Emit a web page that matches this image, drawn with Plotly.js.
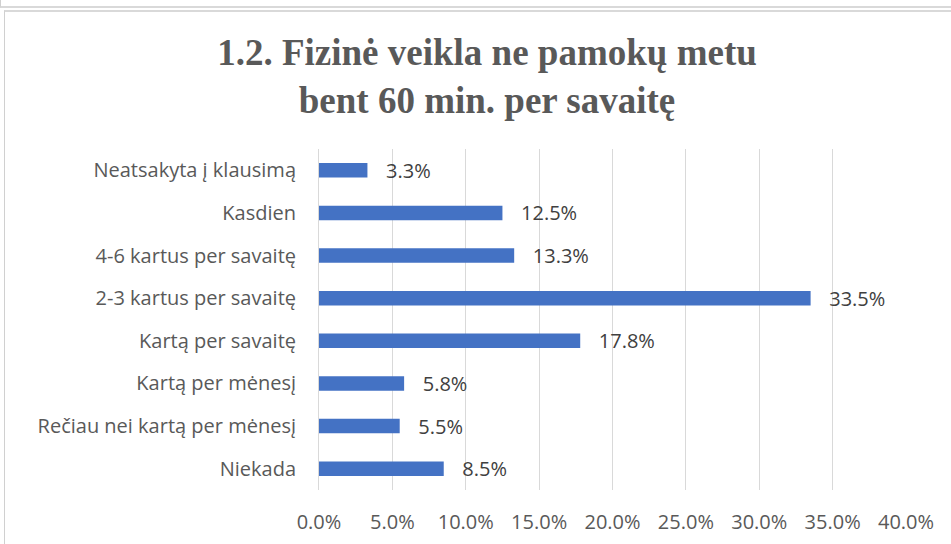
<!DOCTYPE html>
<html>
<head>
<meta charset="utf-8">
<script src="https://cdn.plot.ly/plotly-3.0.1.min.js"></script>
<style>
html,body{margin:0;padding:0;background:#fff;}
#wrap{position:relative;width:951px;height:544px;overflow:hidden;}
#chart{position:absolute;left:0;top:0;width:951px;height:544px;}
.frame1{position:absolute;left:0;top:-2px;width:960px;height:8px;border-left:1px solid #d0d0d0;border-bottom:2px solid #d9d9d9;pointer-events:none;}
.frame2{position:absolute;left:4px;top:10px;width:960px;height:560px;border-left:1px solid #d0d0d0;border-top:2px solid #d9d9d9;pointer-events:none;}
</style>
</head>
<body>
<div id="wrap">
<div id="chart"></div>
<div class="frame1"></div>
<div class="frame2"></div>
</div>
<script>
const categories = [
  "Neatsakyta į klausimą",
  "Kasdien",
  "4-6 kartus per savaitę",
  "2-3 kartus per savaitę",
  "Kartą per savaitę",
  "Kartą per mėnesį",
  "Rečiau nei kartą per mėnesį",
  "Niekada"
];
const values = [3.3, 12.5, 13.3, 33.5, 17.8, 5.8, 5.5, 8.5];
const xTickVals = [0, 5, 10, 15, 20, 25, 30, 35, 40];
const xTickText = ["0.0%", "5.0%", "10.0%", "15.0%", "20.0%", "25.0%", "30.0%", "35.0%", "40.0%"];
const titleText = "<b>1.2. Fizinė veikla ne pamokų metu<br>bent 60 min. per savaitę</b>";

const NB = "\u00a0\u00a0\u00a0";
const sans = "Open Sans, Liberation Sans, sans-serif";

const trace = {
  type: "bar",
  orientation: "h",
  y: categories,
  x: values,
  marker: {color: "#4472C4"},
  text: values.map(v => NB + v.toFixed(1) + "%"),
  textposition: "outside",
  constraintext: "none",
  cliponaxis: false,
  textfont: {family: sans, size: 20, color: "#404040"},
  hoverinfo: "none"
};

const layout = {
  width: 951,
  height: 544,
  paper_bgcolor: "#ffffff",
  plot_bgcolor: "#ffffff",
  margin: {l: 319, r: 45, t: 149, b: 54},
  showlegend: false,
  bargap: 0.66,
  title: {
    text: titleText,
    font: {family: "Liberation Serif, Times New Roman, serif", size: 37, color: "#595959"},
    xref: "container",
    x: 487 / 951,
    xanchor: "center",
    yref: "container",
    y: 1 - 65 / 544,
    yanchor: "middle"
  },
  xaxis: {
    range: [0, 40],
    tickvals: xTickVals,
    ticktext: xTickText,
    showgrid: true,
    gridcolor: "#d9d9d9",
    gridwidth: 1,
    zeroline: false,
    showline: false,
    ticks: "",
    ticklabelstandoff: 18,
    tickfont: {family: sans, size: 20, color: "#595959"},
    fixedrange: true
  },
  yaxis: {
    autorange: "reversed",
    showgrid: false,
    zeroline: false,
    showline: true,
    linecolor: "#d9d9d9",
    linewidth: 1,
    ticks: "",
    ticklabelstandoff: 18,
    tickfont: {family: sans, size: 20, color: "#595959"},
    fixedrange: true
  }
};

Plotly.newPlot("chart", [trace], layout, {displayModeBar: false, staticPlot: true});
</script>
</body>
</html>
